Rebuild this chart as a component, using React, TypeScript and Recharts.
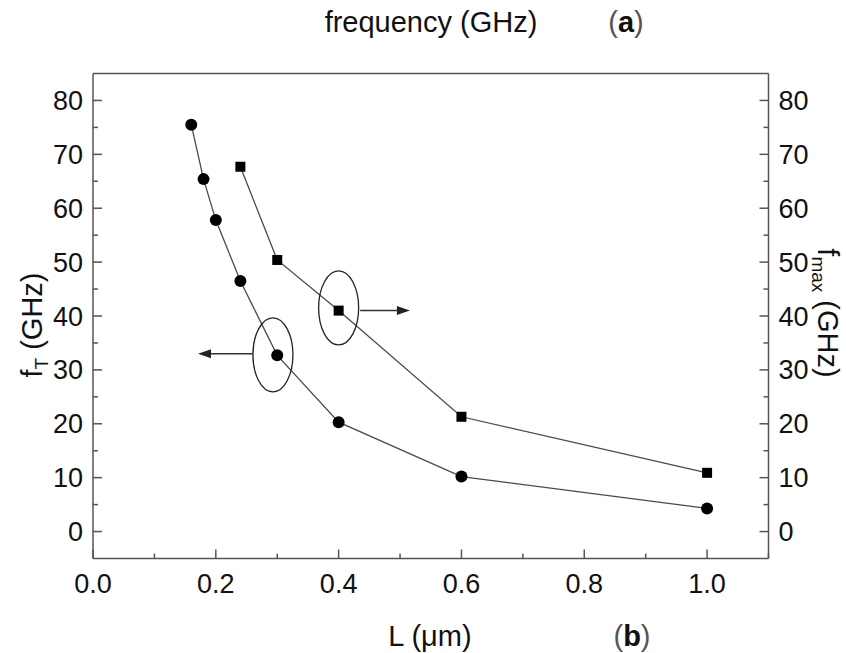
import React from "react";
import { Label, Line, LineChart, ReferenceDot, ReferenceLine, XAxis, YAxis } from "recharts";

// gate length L (um) and the two cut-off frequencies
const lengthsFT = [0.16, 0.18, 0.2, 0.24, 0.3, 0.4, 0.6, 1.0];
const fTValues = [75.5, 65.4, 57.8, 46.5, 32.7, 20.3, 10.2, 4.3];
const lengthsFmax = [0.24, 0.3, 0.4, 0.6, 1.0];
const fmaxValues = [67.7, 50.4, 41.0, 21.3, 10.9];

const xTicks = [0, 0.1, 0.2, 0.3, 0.4, 0.5, 0.6, 0.7, 0.8, 0.9, 1.0, 1.1];
const xTickLabels = ["0.0", "0.2", "0.4", "0.6", "0.8", "1.0"];
const topTicks = [0.1, 0.2, 0.3, 0.4, 0.5, 0.6, 0.7, 0.8, 0.9, 1.0];
const yTicks = [0, 5, 10, 15, 20, 25, 30, 35, 40, 45, 50, 55, 60, 65, 70, 75, 80];
const yTickLabels = ["0", "10", "20", "30", "40", "50", "60", "70", "80"];

// ellipse marks with arrows telling which axis each curve belongs to
const ellipseCenters = [
  { x: 0.293, y: 32.8 },
  { x: 0.4, y: 41.5 },
];
const arrows = [
  { from: 0.26, to: 0.171, y: 33 },
  { from: 0.435, to: 0.516, y: 41 },
];

const fTData = lengthsFT.map((l, i) => ({ l, v: fTValues[i] }));
const fmaxData = lengthsFmax.map((l, i) => ({ l, v: fmaxValues[i] }));

const FONT = '"Liberation Sans", Arial, Helvetica, sans-serif';
const AXIS = "#555";
const LINE = "#4a4a4a";
const TICK_FONT = 27;
const TITLE_FONT = 29;

const BottomTick = ({ x, y, payload }: any) => {
  const n = Math.round(payload.value * 10);
  const major = n % 2 === 0;
  const label = major ? xTickLabels[n / 2] : null;
  return (
    <g>
      <line x1={x} y1={y} x2={x} y2={y - (major ? 9 : 5)} stroke={AXIS} strokeWidth={1.5} />
      {label && (
        <text x={x} y={y + 34} textAnchor="middle" fontSize={TICK_FONT} fontFamily={FONT} fill="#111">
          {label}
        </text>
      )}
    </g>
  );
};

const TopTick = ({ x, y }: any) => <line x1={x} y1={y} x2={x} y2={y + 9} stroke={AXIS} strokeWidth={1.5} />;

const makeYTick = (side: "left" | "right") => ({ x, y, payload }: any) => {
  const v = payload.value;
  const major = v % 10 === 0;
  const label = major ? yTickLabels[v / 10] : null;
  const dir = side === "left" ? 1 : -1;
  return (
    <g>
      <line x1={x} y1={y} x2={x + dir * (major ? 9 : 5)} y2={y} stroke={AXIS} strokeWidth={1.5} />
      {label && (
        <text
          x={side === "left" ? x - 10 : x + 10}
          y={y + 9.5}
          textAnchor={side === "left" ? "end" : "start"}
          fontSize={TICK_FONT}
          fontFamily={FONT}
          fill="#111"
        >
          {label}
        </text>
      )}
    </g>
  );
};

const circleDot = (props: any) => <circle key={`c-${props.index}`} cx={props.cx} cy={props.cy} r={6} fill="#000" />;
const squareDot = (props: any) => (
  <rect key={`s-${props.index}`} x={props.cx - 5} y={props.cy - 5} width={10} height={10} fill="#000" />
);

const ellipseShape = (props: any) => (
  <ellipse cx={props.cx} cy={props.cy} rx={20} ry={37} fill="none" stroke="#222" strokeWidth={1.3} />
);

const arrowShape = (props: any) => {
  const { x1, y1, x2, y2 } = props;
  const dir = x2 > x1 ? 1 : -1;
  return (
    <g>
      <line x1={x1} y1={y1} x2={x2 - dir * 10} y2={y2} stroke="#333" strokeWidth={1.5} />
      <polygon points={`${x2},${y2} ${x2 - dir * 13},${y2 - 4.5} ${x2 - dir * 13},${y2 + 4.5}`} fill="#222" />
    </g>
  );
};

export default function App() {
  return (
    <div style={{ position: "absolute", left: 0, top: 0, width: 846, height: 653, background: "#fff" }}>
      <LineChart width={846} height={653} margin={{ top: 72.5, right: 17.5, bottom: 54.5, left: 33 }}>
        <XAxis
          xAxisId="bottom"
          dataKey="l"
          type="number"
          domain={[0, 1.1]}
          ticks={xTicks}
          height={40}
          tickSize={0}
          tickMargin={0}
          tickLine={false}
          interval={0}
          axisLine={{ stroke: AXIS, strokeWidth: 1.5 }}
          tick={BottomTick}
        >
          <Label
            content={({ viewBox }: any) => (
              <g fontFamily={FONT} fill="#111">
                <text x={430} y={viewBox.y + 87} textAnchor="middle" fontSize={TITLE_FONT}>
                  L (μm)
                </text>
                <text x={632} y={viewBox.y + 87} textAnchor="middle" fontSize={TITLE_FONT}>
                  <tspan fill="#555">(</tspan>
                  <tspan fontWeight="bold">b</tspan>
                  <tspan fill="#555">)</tspan>
                </text>
              </g>
            )}
          />
        </XAxis>
        <XAxis
          xAxisId="top"
          orientation="top"
          type="number"
          domain={[0, 1.1]}
          ticks={topTicks}
          allowDataOverflow
          height={1}
          tickSize={0}
          tickMargin={0}
          tickLine={false}
          interval={0}
          axisLine={{ stroke: AXIS, strokeWidth: 1.5 }}
          tick={TopTick}
        >
          <Label
            content={() => (
              <g fontFamily={FONT} fill="#111">
                <text x={431} y={32} textAnchor="middle" fontSize={TITLE_FONT}>
                  frequency (GHz)
                </text>
                <text x={626} y={32} textAnchor="middle" fontSize={TITLE_FONT}>
                  <tspan fill="#555">(</tspan>
                  <tspan fontWeight="bold">a</tspan>
                  <tspan fill="#555">)</tspan>
                </text>
              </g>
            )}
          />
        </XAxis>
        <YAxis
          yAxisId="left"
          type="number"
          domain={[-5, 85]}
          ticks={yTicks}
          width={60}
          tickSize={0}
          tickMargin={0}
          tickLine={false}
          interval={0}
          axisLine={{ stroke: AXIS, strokeWidth: 1.5 }}
          tick={makeYTick("left")}
        >
          <Label
            content={() => (
              <text
                x={42}
                y={325}
                transform="rotate(-90, 42, 325)"
                textAnchor="middle"
                fontSize={TITLE_FONT}
                fontFamily={FONT}
                fill="#111"
              >
                f<tspan dy={6} fontSize={19}>T</tspan>
                <tspan dy={-6}> (GHz)</tspan>
              </text>
            )}
          />
        </YAxis>
        <YAxis
          yAxisId="right"
          orientation="right"
          type="number"
          domain={[-5, 85]}
          ticks={yTicks}
          width={60}
          tickSize={0}
          tickMargin={0}
          tickLine={false}
          interval={0}
          axisLine={{ stroke: AXIS, strokeWidth: 1.5 }}
          tick={makeYTick("right")}
        >
          <Label
            content={() => (
              <text
                x={818}
                y={313}
                transform="rotate(90, 818, 313)"
                textAnchor="middle"
                fontSize={TITLE_FONT}
                fontFamily={FONT}
                fill="#111"
              >
                f<tspan dy={6} fontSize={19}>max</tspan>
                <tspan dy={-6}> (GHz)</tspan>
              </text>
            )}
          />
        </YAxis>

        <Line
          data={fTData}
          xAxisId="bottom"
          yAxisId="left"
          dataKey="v"
          stroke={LINE}
          strokeWidth={1.3}
          dot={circleDot}
          activeDot={false}
          isAnimationActive={false}
        />
        <Line
          data={fmaxData}
          xAxisId="bottom"
          yAxisId="right"
          dataKey="v"
          stroke={LINE}
          strokeWidth={1.3}
          dot={squareDot}
          activeDot={false}
          isAnimationActive={false}
        />

        {ellipseCenters.map((c, i) => (
          <ReferenceDot key={`e-${i}`} xAxisId="bottom" yAxisId="left" x={c.x} y={c.y} shape={ellipseShape} />
        ))}
        {arrows.map((a, i) => (
          <ReferenceLine
            key={`a-${i}`}
            xAxisId="bottom"
            yAxisId="left"
            segment={[
              { x: a.from, y: a.y },
              { x: a.to, y: a.y },
            ]}
            shape={arrowShape}
          />
        ))}
      </LineChart>
    </div>
  );
}
